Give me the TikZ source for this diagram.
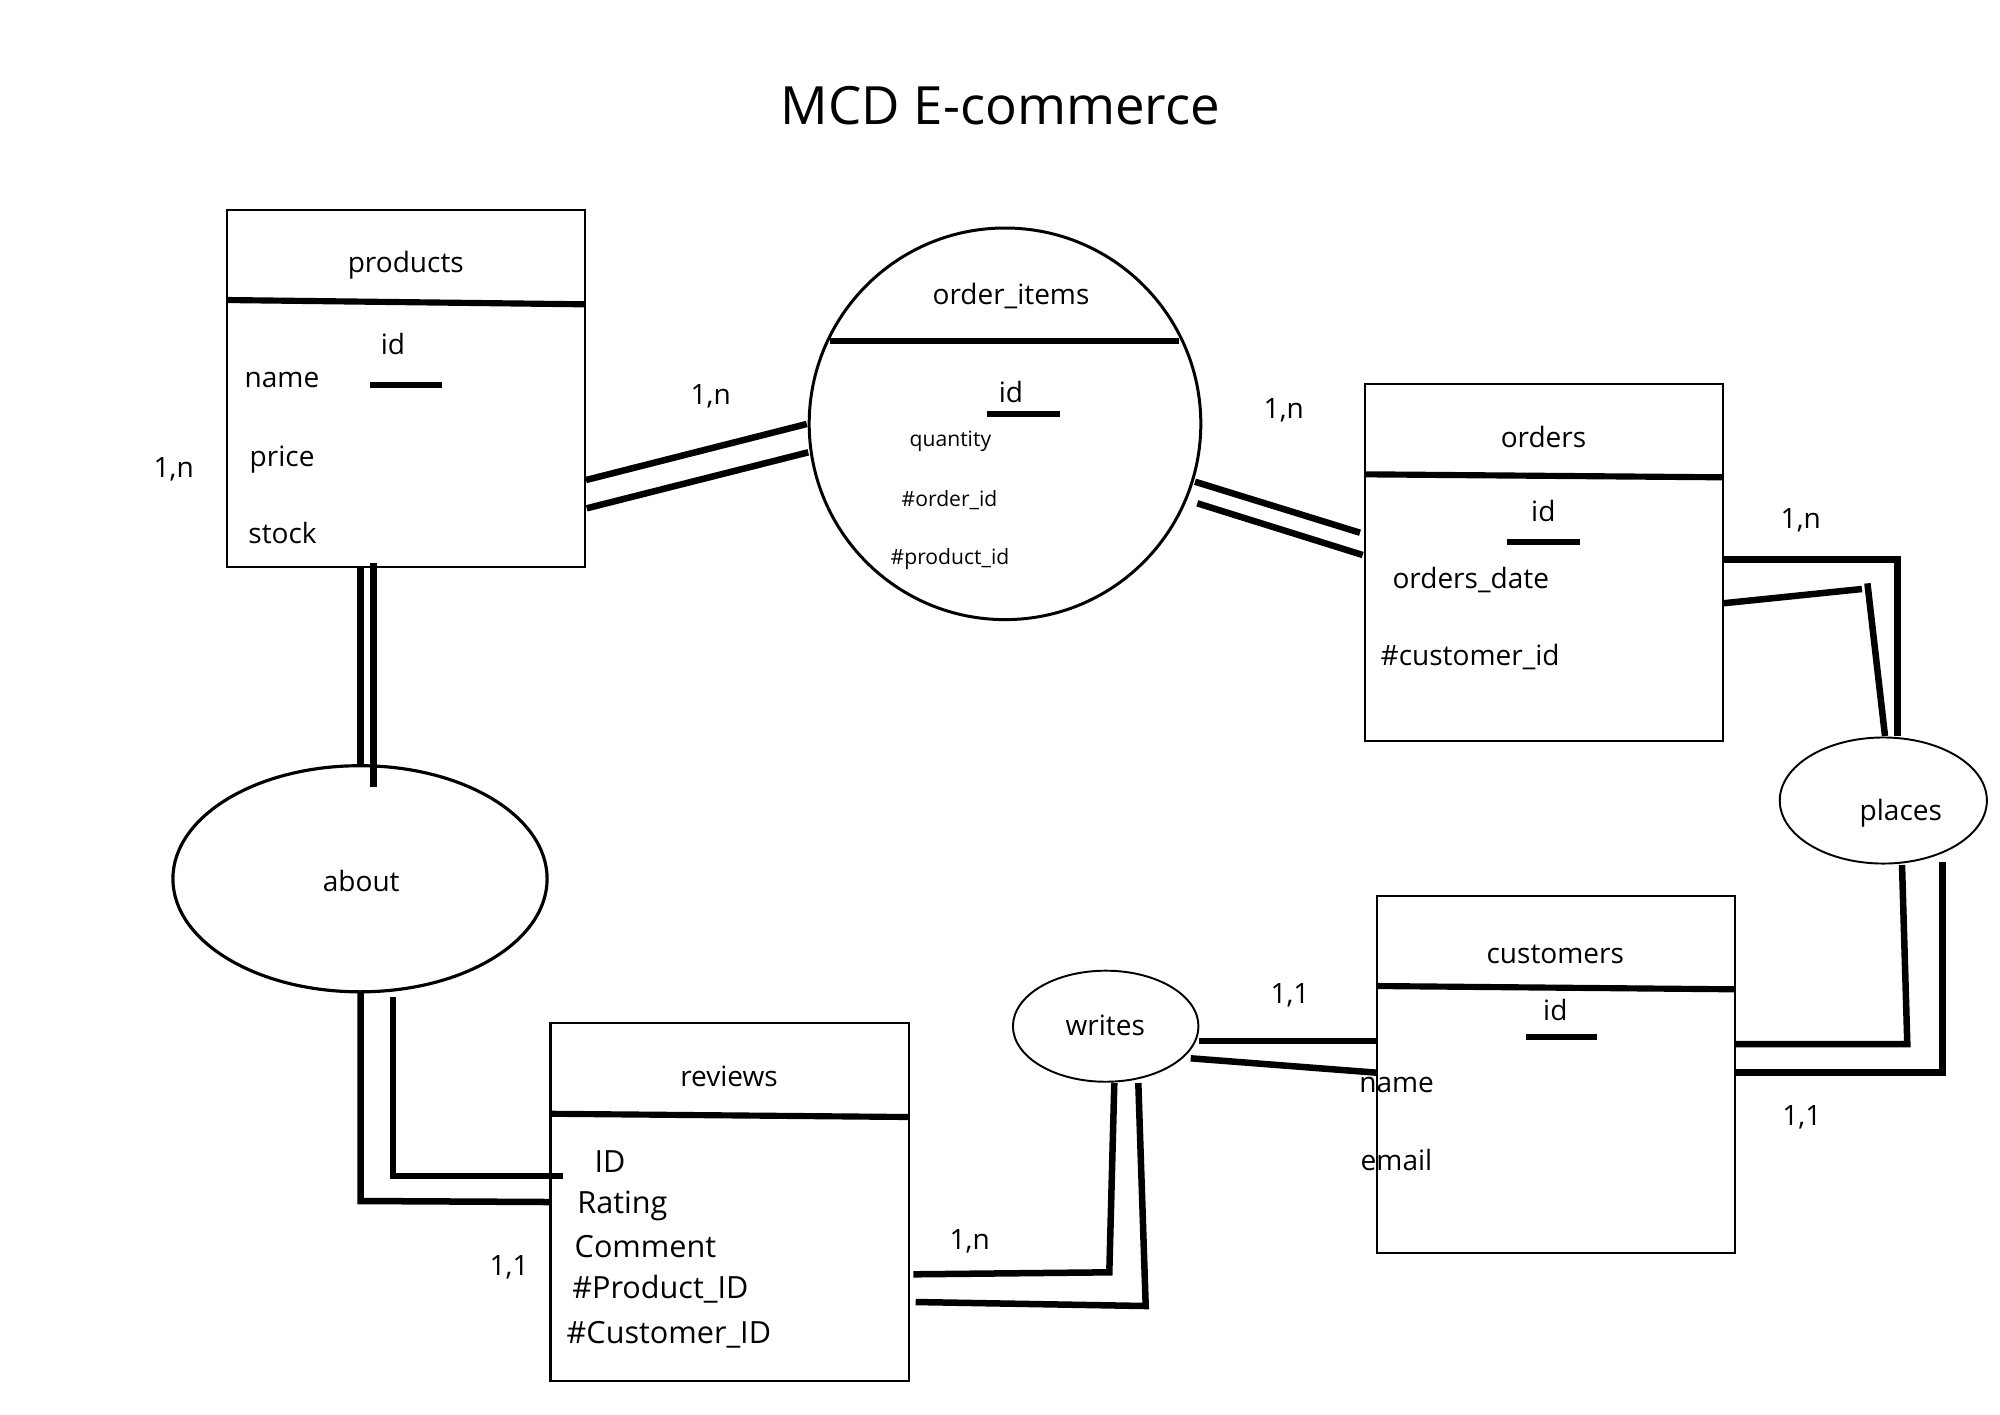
\documentclass[tikz,border=0pt]{standalone}
\usepackage{fontspec}
\setmainfont{Open Sans}
\usetikzlibrary{shapes.geometric}
\tikzset{
  entbox/.style={draw, line width=0.6pt, inner sep=0pt, minimum width=3.58cm, minimum height=3.57cm},
  relell/.style={draw, ellipse, inner sep=0pt},
  divider/.style={line width=1.75pt},
  keyline/.style={line width=1.75pt},
  conn/.style={line width=1.85pt},
  txt/.style={inner sep=0pt, yshift=-0.015cm, font=\fontsize{7.97pt}{9.5pt}\selectfont},
  bigtxt/.style={inner sep=0pt, yshift=-0.015cm, font=\fontsize{8.7pt}{10.5pt}\selectfont},
  smalltxt/.style={inner sep=0pt, yshift=-0.01cm, font=\fontsize{6pt}{7.5pt}\selectfont},
  titletxt/.style={inner sep=0pt, font=\fontsize{15pt}{17pt}\selectfont},
}
\begin{document}
\begin{tikzpicture}[x=0.01cm,y=-0.01cm]
\fill[white] (0,0) rectangle (2000,1414);
\useasboundingbox (0,0) rectangle (2000,1414);

% title
\node[titletxt, anchor=base] (title) at (1000.5,124.5) {MCD E-commerce};

% ---------- entities ----------
\node[entbox] (products) at (405.85,388.65) {};
\draw[divider] (226.7,300) -- (585,304.3);
\node[txt, anchor=base] (products-t) at (405.8,271) {products};
\node[txt, anchor=base] (products-id) at (393,352.7) {id};
\draw[keyline] (370,385) -- (442,385);
\node[txt, anchor=base west] (products-name) at (244,386) {name};
\node[txt, anchor=base west] (products-price) at (249,465) {price};
\node[txt, anchor=base west] (products-stock) at (247.7,542.3) {stock};

\node[entbox] (orders) at (1543.7,562.5) {};
\draw[divider] (1364.4,474.3) -- (1723,477.3);
\node[txt, anchor=base] (orders-t) at (1543.5,446) {orders};
\node[txt, anchor=base] (orders-id) at (1543.3,520) {id};
\draw[keyline] (1507,542.3) -- (1580,542.3);
\node[txt, anchor=base west] (orders-date) at (1391.8,586.7) {orders\_date};
\node[txt, anchor=base west] (orders-cust) at (1380,664.3) {\#customer\_id};

\node[entbox] (customers) at (1556,1074.2) {};
\draw[divider] (1377,986) -- (1735,989.3);
\node[txt, anchor=base] (customers-t) at (1555.3,961.7) {customers};
\node[txt, anchor=base] (customers-id) at (1555.3,1019.3) {id};
\draw[keyline] (1526,1036.7) -- (1597.3,1036.7);
\node[txt, anchor=base west] (customers-name) at (1358.6,1090.7) {name};
\node[txt, anchor=base west] (customers-email) at (1360,1169.3) {email};

\node[entbox] (reviews) at (729.6,1202) {};
\draw[divider] (550.5,1113.75) -- (908.7,1117);
\node[txt, anchor=base] (reviews-t) at (729,1085.4) {reviews};
\node[bigtxt, anchor=base west] (reviews-id) at (594,1170.7) {ID};
\node[bigtxt, anchor=base west] (reviews-rating) at (576.7,1211.7) {Rating};
\node[bigtxt, anchor=base west] (reviews-comment) at (574,1256) {Comment};
\node[bigtxt, anchor=base west] (reviews-prod) at (571.7,1297.3) {\#Product\_ID};
\node[bigtxt, anchor=base west] (reviews-cust) at (566,1341.7) {\#Customer\_ID};

% ---------- associations ----------
\node[draw, circle, inner sep=0pt, line width=0.85pt, minimum size=3.914cm] (orderitems) at (1005,423.8) {};
\draw[divider] (830,340.7) -- (1179.3,340.7);
\node[txt, anchor=base] (orderitems-t) at (1011,302.7) {order\_items};
\node[txt, anchor=base] (orderitems-id) at (1011,400.7) {id};
\draw[keyline] (987,413.7) -- (1060,413.7);
\node[smalltxt, anchor=base west] (orderitems-q) at (909,445) {quantity};
\node[smalltxt, anchor=base west] (orderitems-o) at (901,505) {\#order\_id};
\node[smalltxt, anchor=base west] (orderitems-p) at (890,563.3) {\#product\_id};

\node[relell, line width=0.9pt, minimum width=3.74cm, minimum height=2.26cm] (about) at (360,878.75) {};
\node[txt, anchor=base] (about-t) at (361.2,889.6) {about};

\node[relell, line width=0.55pt, minimum width=2.07cm, minimum height=1.26cm] (places) at (1883.3,800.5) {};
\node[txt, anchor=base] (places-t) at (1900.8,818.5) {places};

\node[relell, line width=0.55pt, minimum width=1.854cm, minimum height=1.11cm] (writes) at (1105.7,1026.2) {};
\node[txt, anchor=base] (writes-t) at (1105.3,1034) {writes};

% ---------- connector end points ----------
\coordinate (po1a) at (586,480);      \coordinate (po1b) at (806.7,424);
\coordinate (po2a) at (586.7,508.3);  \coordinate (po2b) at (808.3,452.3);
\coordinate (oo1a) at (1195,481.7);   \coordinate (oo1b) at (1360,532.7);
\coordinate (oo2a) at (1197.3,503.3); \coordinate (oo2b) at (1362.7,555);
\coordinate (op1a) at (1723,559.3);   \coordinate (op1m) at (1897.7,559.3); \coordinate (op1b) at (1897.7,736);
\coordinate (op2a) at (1723,603.3);   \coordinate (op2m) at (1861.9,589);
\coordinate (op3a) at (1867.4,583.3); \coordinate (op3b) at (1885,736);
\coordinate (cp1a) at (1735,1044);    \coordinate (cp1m) at (1907.3,1044);  \coordinate (cp1b) at (1902,865);
\coordinate (cp2a) at (1735,1072.7);  \coordinate (cp2m) at (1942.3,1072.7); \coordinate (cp2b) at (1942.3,861.7);
\coordinate (wc1a) at (1199.4,1041);  \coordinate (wc1b) at (1377,1041);
\coordinate (wc2a) at (1190.7,1058.3); \coordinate (wc2b) at (1377,1072.7);
\coordinate (wr1a) at (913.3,1274.3); \coordinate (wr1m) at (1109.3,1272.3); \coordinate (wr1b) at (1114.3,1083);
\coordinate (wr2a) at (915.7,1302);   \coordinate (wr2m) at (1145.7,1306);  \coordinate (wr2b) at (1138.3,1083);
\coordinate (pa1a) at (360.7,567.3);  \coordinate (pa1b) at (360.7,765);
\coordinate (pa2a) at (373.3,562.7);  \coordinate (pa2b) at (373.3,786.7);
\coordinate (ar1a) at (360.7,991.7);  \coordinate (ar1m) at (360.7,1201);   \coordinate (ar1b) at (549,1202);
\coordinate (ar2a) at (392.9,996.7);  \coordinate (ar2m) at (392.9,1175.8); \coordinate (ar2b) at (563.3,1175.8);

% ---------- connectors ----------
\draw[conn] (po1a) -- (po1b);
\draw[conn] (po2a) -- (po2b);
\draw[conn] (oo1a) -- (oo1b);
\draw[conn] (oo2a) -- (oo2b);
\draw[conn] (op1a) -- (op1m) -- (op1b);
\draw[conn] (op2a) -- (op2m);
\draw[conn] (op3a) -- (op3b);
\draw[conn] (cp1a) -- (cp1m) -- (cp1b);
\draw[conn] (cp2a) -- (cp2m) -- (cp2b);
\draw[conn] (wc1a) -- (wc1b);
\draw[conn] (wc2a) -- (wc2b);
\draw[conn] (wr1a) -- (wr1m) -- (wr1b);
\draw[conn] (wr2a) -- (wr2m) -- (wr2b);
\draw[conn] (pa1a) -- (pa1b);
\draw[conn] (pa2a) -- (pa2b);
\draw[conn] (ar1a) -- (ar1m) -- (ar1b);
\draw[conn] (ar2a) -- (ar2m) -- (ar2b);

% ---------- cardinalities ----------
\node[txt, anchor=base west] (card-po) at (690,403) {1,n};
\node[txt, anchor=base west] (card-pa) at (153,476) {1,n};
\node[txt, anchor=base west] (card-oo) at (1263,417) {1,n};
\node[txt, anchor=base west] (card-op) at (1780,526.7) {1,n};
\node[txt, anchor=base west] (card-cp) at (1781.7,1124) {1,1};
\node[txt, anchor=base west] (card-wc) at (1269.8,1002.3) {1,1};
\node[txt, anchor=base west] (card-wr) at (949,1248.3) {1,n};
\node[txt, anchor=base west] (card-ar) at (489,1273.75) {1,1};
\end{tikzpicture}
\end{document}
